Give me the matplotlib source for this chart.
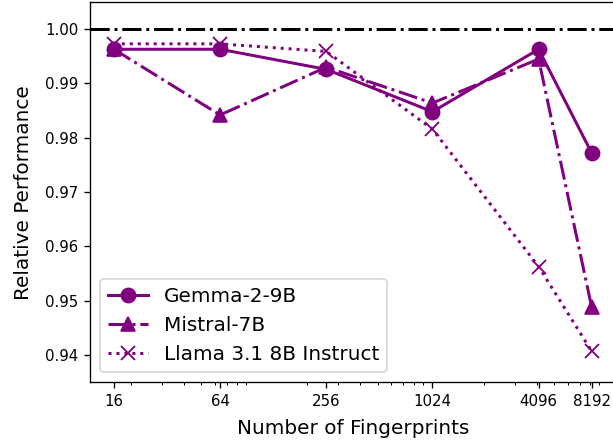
import matplotlib
matplotlib.use("Agg")
import matplotlib.pyplot as plt

fingerprints = [16, 64, 256, 1024, 4096, 8192]
tick_labels = ["16", "64", "256", "1024", "4096", "8192"]

gemma = [0.9963, 0.9963, 0.9926, 0.9848, 0.9963, 0.9772]
mistral = [0.9963, 0.9842, 0.9930, 0.9864, 0.9945, 0.9488]
llama = [0.9973, 0.9973, 0.9959, 0.9816, 0.9563, 0.9407]

color = "purple"

fig = plt.figure(figsize=(613 / 120, 444 / 120), dpi=120)
ax = fig.add_axes([90 / 613, 1 - 382.3 / 444, 525.6 / 613, 380.3 / 444])

ax.plot(fingerprints, gemma, color=color, linestyle="-", marker="o",
        linewidth=1.8, markersize=8.5, label="Gemma-2-9B")
ax.plot(fingerprints, mistral, color=color, linestyle="-.", marker="^",
        linewidth=1.8, markersize=8.5, label="Mistral-7B")
ax.plot(fingerprints, llama, color=color, linestyle=":", marker="x",
        linewidth=1.8, markersize=8.5, markeredgewidth=1.1,
        label="Llama 3.1 8B Instruct")
ax.axhline(1.0, color="black", linestyle="-.", linewidth=1.8)

ax.set_xscale("log")
ax.set_xticks(fingerprints)
ax.set_xticklabels(tick_labels)
ax.set_ylim(0.935, 1.005)
ax.tick_params(labelsize=9)

ax.set_xlabel("Number of Fingerprints", fontsize=12, labelpad=6)
ax.set_ylabel("Relative Performance", fontsize=12, labelpad=7)
ax.legend(loc="lower left", fontsize=12)

fig.savefig("out.png", dpi=120)
